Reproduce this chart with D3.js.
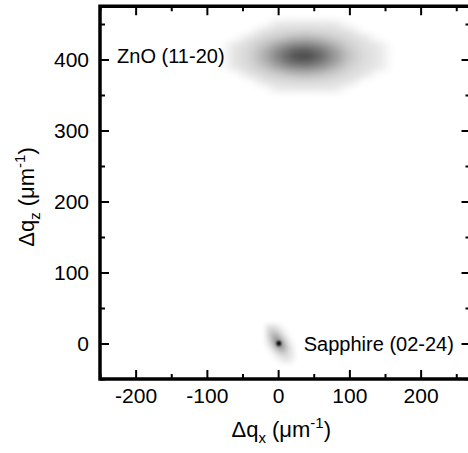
<!DOCTYPE html>
<html><head><meta charset="utf-8">
<script src="https://cdn.jsdelivr.net/npm/d3@7"></script>
<style>
html,body{margin:0;padding:0;background:#fff;}
svg text{font-family:"Liberation Sans",Arial,Helvetica,sans-serif;fill:#000;}
</style></head>
<body><svg id="c" width="468" height="453"></svg>
<script>
// ---- data ----
const xDomain = [-250, 270];
const yDomain = [-50, 475];
const xTicks = [-200, -100, 0, 100, 200];
const yTicks = [0, 100, 200, 300, 400];
const xMinorTicks = [-250, -150, -50, 50, 150, 250];
const yMinorTicks = [-50, 50, 150, 250, 350, 450];

// ZnO (11-20) reflection intensity grid (0 = white, 1 = black)
const znoX = [-60, -40, -20, 0, 20, 40, 60, 80, 100, 120, 140];
const znoY = [450, 440, 430, 420, 410, 400, 390, 380, 370, 360];
const znoI = [
  [0,    0,    0,    0.03, 0.04, 0.04, 0.04, 0.03, 0,    0,    0   ],
  [0,    0,    0.06, 0.12, 0.16, 0.17, 0.15, 0.11, 0.06, 0,    0   ],
  [0,    0.07, 0.18, 0.27, 0.34, 0.36, 0.32, 0.24, 0.14, 0.06, 0   ],
  [0.05, 0.15, 0.29, 0.43, 0.53, 0.55, 0.49, 0.37, 0.22, 0.10, 0.03],
  [0.07, 0.19, 0.36, 0.53, 0.65, 0.68, 0.60, 0.45, 0.28, 0.13, 0.04],
  [0.07, 0.19, 0.36, 0.53, 0.65, 0.68, 0.60, 0.45, 0.28, 0.13, 0.04],
  [0.05, 0.15, 0.29, 0.43, 0.53, 0.55, 0.49, 0.37, 0.22, 0.10, 0.03],
  [0,    0.07, 0.18, 0.27, 0.34, 0.36, 0.32, 0.24, 0.14, 0.06, 0   ],
  [0,    0,    0.06, 0.12, 0.16, 0.17, 0.15, 0.11, 0.06, 0,    0   ],
  [0,    0,    0,    0.03, 0.04, 0.04, 0.04, 0.03, 0,    0,    0   ]
];

// Sapphire (02-24) reflection intensity grid
const sapX = [-15, -10, -5, 0, 5, 10, 15, 20];
const sapY = [25, 20, 15, 10, 5, 0, -5, -10, -15, -20, -25];
const sapI = [
  [0.046,0.061,0.046,0.020,0.005,0,0,0],
  [0.071,0.119,0.114,0.063,0.020,0.003,0,0],
  [0.083,0.178,0.218,0.154,0.062,0.015,0.002,0],
  [0.074,0.203,0.318,0.287,0.149,0.045,0.008,0],
  [0.051,0.177,0.355,0.408,0.271,0.103,0.023,0.003],
  [0.027,0.118,0.302,0.600,0.377,0.183,0.052,0.008],
  [0.011,0.060,0.196,0.370,0.401,0.250,0.090,0.019],
  [0.002,0.017,0.074,0.176,0.245,0.195,0.089,0.023],
  [0,0.004,0.022,0.068,0.121,0.124,0.072,0.025],
  [0,0,0.006,0.021,0.048,0.063,0.047,0.020],
  [0,0,0,0.005,0.014,0.023,0.022,0.012]
];
const sapPeak = [1, 0];

const labels = [
  {text: "ZnO (11-20)", x: -226, y: 405, anchor: "start"},
  {text: "Sapphire (02-24)", x: 36, y: 0, anchor: "start"}
];

// ---- layout ----
const svg = d3.select("#c");
const x = d3.scaleLinear().domain(xDomain).range([100, 470.5]);
const y = d3.scaleLinear().domain(yDomain).range([379, 6.25]);
const colorZ = d3.scaleLinear().domain([0, 0.02, 0.25, 0.5, 0.7])
  .range(["#ffffff", "#e8e8e8", "#cdcdcd", "#8c8c8c", "#474747"]).clamp(true);
const colorS = d3.scaleLinear().domain([0, 0.02, 1]).range(["#ffffff", "#ececec", "#000000"]).clamp(true);

const defs = svg.append("defs");
defs.append("clipPath").attr("id", "clip").append("rect")
  .attr("x", x(xDomain[0])).attr("y", y(yDomain[1]))
  .attr("width", x(xDomain[1]) - x(xDomain[0])).attr("height", y(yDomain[0]) - y(yDomain[1]));
function blur(id, sd) {
  defs.append("filter").attr("id", id).attr("filterUnits", "userSpaceOnUse")
    .attr("x", 0).attr("y", 0).attr("width", 468).attr("height", 453)
    .append("feGaussianBlur").attr("stdDeviation", sd);
}
blur("blurZ", "6 3.5");
blur("blurS", "2 2");
blur("blurP", "0.8");

const plot = svg.append("g").attr("clip-path", "url(#clip)");

function drawGrid(gx, gy, gi, filterId, color) {
  const dx = Math.abs(gx[1] - gx[0]), dy = Math.abs(gy[1] - gy[0]);
  const cells = [];
  gi.forEach((row, r) => row.forEach((v, c) => { if (v > 0) cells.push({x: gx[c], y: gy[r], v}); }));
  plot.append("g").attr("filter", `url(#${filterId})`)
    .selectAll("rect").data(cells).join("rect")
    .attr("x", d => x(d.x - dx / 2))
    .attr("y", d => y(d.y + dy / 2))
    .attr("width", x(dx) - x(0) + 0.5)
    .attr("height", y(0) - y(dy) + 0.5)
    .attr("fill", d => color(d.v));
}
drawGrid(znoX, znoY, znoI, "blurZ", colorZ);
drawGrid(sapX, sapY, sapI, "blurS", colorS);
plot.append("circle").attr("cx", x(sapPeak[0])).attr("cy", y(sapPeak[1])).attr("r", 2.4)
  .attr("fill", "#000").attr("filter", "url(#blurP)");

// ---- axes ----
function styleAxis(g) {
  g.select(".domain").remove();
  g.selectAll(".tick line").attr("stroke", "#000").attr("stroke-width", 2);
  g.selectAll(".tick text").attr("font-size", 21);
}
const fmt = d => String(d);
const x0 = x(xDomain[0]), x1 = x(xDomain[1]), y0 = y(yDomain[0]), y1 = y(yDomain[1]);

svg.append("g").attr("transform", `translate(0,${y0})`)
  .call(d3.axisBottom(x).tickValues(xTicks).tickSizeInner(-9).tickSizeOuter(0).tickPadding(9).tickFormat(fmt))
  .call(styleAxis);
svg.append("g").attr("transform", `translate(0,${y0})`)
  .call(d3.axisBottom(x).tickValues(xMinorTicks).tickSizeInner(-5).tickSizeOuter(0).tickFormat(""))
  .call(styleAxis);
svg.append("g").attr("transform", `translate(0,${y1})`)
  .call(d3.axisTop(x).tickValues(xTicks).tickSizeInner(-9).tickSizeOuter(0).tickFormat(""))
  .call(styleAxis);
svg.append("g").attr("transform", `translate(0,${y1})`)
  .call(d3.axisTop(x).tickValues(xMinorTicks).tickSizeInner(-5).tickSizeOuter(0).tickFormat(""))
  .call(styleAxis);
svg.append("g").attr("transform", `translate(${x0},0)`)
  .call(d3.axisLeft(y).tickValues(yTicks).tickSizeInner(-9).tickSizeOuter(0).tickPadding(11).tickFormat(fmt))
  .call(styleAxis);
svg.append("g").attr("transform", `translate(${x0},0)`)
  .call(d3.axisLeft(y).tickValues(yMinorTicks).tickSizeInner(-5).tickSizeOuter(0).tickFormat(""))
  .call(styleAxis);
svg.append("g").attr("transform", `translate(${x1},0)`)
  .call(d3.axisRight(y).tickValues(yTicks).tickSizeInner(-9).tickSizeOuter(0).tickFormat(""))
  .call(styleAxis);
svg.append("g").attr("transform", `translate(${x1},0)`)
  .call(d3.axisRight(y).tickValues(yMinorTicks).tickSizeInner(-5).tickSizeOuter(0).tickFormat(""))
  .call(styleAxis);

svg.append("rect").attr("x", x0).attr("y", y1).attr("width", x1 - x0).attr("height", y0 - y1)
  .attr("fill", "none").attr("stroke", "#000").attr("stroke-width", 3.5);

// ---- labels ----
svg.selectAll("text.ann").data(labels).join("text").attr("class", "ann")
  .attr("x", d => x(d.x)).attr("y", d => y(d.y)).attr("dy", "0.35em")
  .attr("text-anchor", d => d.anchor).attr("font-size", 20).text(d => d.text);

function title(t, sub) {
  t.append("tspan").text("Δq");
  t.append("tspan").attr("font-size", 15).attr("dy", 6).text(sub);
  t.append("tspan").attr("dy", -6).text(" (μm");
  t.append("tspan").attr("font-size", 15).attr("dy", -9).text("-1");
  t.append("tspan").attr("dy", 9).text(")");
}
const xt = svg.append("text").attr("x", (x0 + x1) / 2 - 4).attr("y", 437)
  .attr("text-anchor", "middle").attr("font-size", 22);
title(xt, "x");
const yt = svg.append("text").attr("transform", "translate(34,197) rotate(-90)")
  .attr("text-anchor", "middle").attr("font-size", 22);
title(yt, "z");
</script></body></html>
